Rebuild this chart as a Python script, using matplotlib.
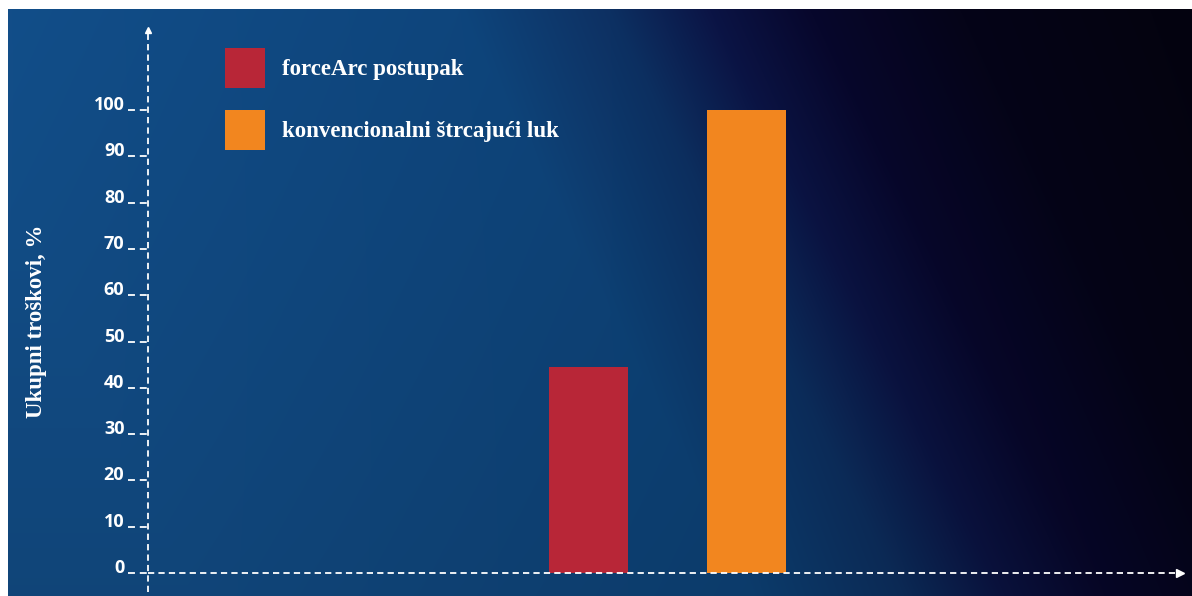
import numpy as np
import matplotlib
matplotlib.use("Agg")
import matplotlib.pyplot as plt
import matplotlib.transforms as mtransforms

# data
categories = ["forceArc postupak", "konvencionalni štrcajući luk"]
values = [44.5, 100]
bar_colors = ["#b82637", "#f2861f"]
yticks = [0, 10, 20, 30, 40, 50, 60, 70, 80, 90, 100]
ylabel = "Ukupni troškovi, %"

W, H = 1192, 596
fig = plt.figure(figsize=(W / 100, H / 100), dpi=100, facecolor="white")

# background: blue on the left, fading diagonally to near black on the right
bg = fig.add_axes([8 / W, 0, 1 - 8 / W, 1 - 9 / H])
bg.set_axis_off()
px = np.arange(8, W)
py = np.arange(9, H)
PX, PY = np.meshgrid(px, py)
u = PX - 0.5 * (PY - 210)
stops = [0, 560, 710, 810, 910, 1060, 1250]
cr = [0x13, 0x0e, 0x0d, 0x0b, 0x07, 0x05, 0x04]
cg = [0x50, 0x45, 0x30, 0x14, 0x07, 0x04, 0x03]
cb = [0x8c, 0x7c, 0x62, 0x45, 0x2c, 0x18, 0x10]
img = np.stack([np.interp(u, stops, c) for c in (cr, cg, cb)], axis=-1) / 255.0
shade = np.linspace(1.0, 0.86, len(py))[:, None, None]
img = np.clip(img * shade, 0, 1)
bg.imshow(img, aspect="auto", extent=[0, 1, 0, 1], interpolation="bilinear")
bg.set_xlim(0, 1)
bg.set_ylim(0, 1)

# main axes: y-axis at x=148px, x-axis at y=573px
x0, y0, x1, y1 = 148, 573, 1185, 30
ax = fig.add_axes([x0 / W, (H - y0) / H, (x1 - x0) / W, (y0 - y1) / H])
ax.patch.set_visible(False)
ppu = (573 - 110) / 100.0
ax.set_ylim(0, (y0 - y1) / ppu)
ax.set_xlim(0, 10)
for s in ax.spines.values():
    s.set_visible(False)

pos = [4.25, 5.77]
bars = ax.bar(pos, values, width=0.76, color=bar_colors, zorder=2)

plt.rcParams["lines.scale_dashes"] = False
dash = (4.5, 3.0)

# axis lines with arrow heads
yline, = ax.plot([0, 0], [-19 / ppu, (y0 - y1) / ppu - 0.5], color="white", lw=1.3,
                 clip_on=False, zorder=3)
yline.set_dashes(dash)
ax.plot([0], [(y0 - y1) / ppu], marker="^", color="white", ms=5, clip_on=False, zorder=3)
xline, = ax.plot([0, 9.9], [0, 0], color="white", lw=1.3, clip_on=False, zorder=3)
xline.set_dashes(dash)
ax.plot([9.95], [0], marker=">", color="white", ms=6, clip_on=False, zorder=3)

# ticks
trans = mtransforms.blended_transform_factory(ax.transAxes, ax.transData)
for t in yticks:
    ln, = ax.plot([-20 / (x1 - x0), 0], [t, t], transform=trans, color="white",
                  lw=1.3, clip_on=False, zorder=3)
    ln.set_dashes((5, 3.5))
ax.set_xticks([])
ax.set_yticks(yticks)
ax.set_yticklabels([str(t) for t in yticks], fontfamily="Open Sans", fontweight="bold",
                   fontsize=13, color="white", va="baseline")
ax.tick_params(axis="y", length=0, pad=17)

ax.set_ylabel(ylabel, fontfamily="Liberation Serif", fontweight="bold", fontsize=16.5,
              color="white")
ax.yaxis.set_label_coords((47 - x0) / (x1 - x0), (y0 - 321) / (y0 - y1))

leg = ax.legend(bars, categories, loc="upper left",
                bbox_to_anchor=(225 / W, 1 - 48 / H), bbox_transform=fig.transFigure,
                frameon=False, borderpad=0, borderaxespad=0,
                handlelength=1.745, handleheight=2.31, handletextpad=0.74,
                labelspacing=0.97,
                prop={"family": "Liberation Serif", "weight": "bold", "size": 16.5})
for txt in leg.get_texts():
    txt.set_color("white")

fig.savefig("out.png", dpi=100, facecolor="white")
